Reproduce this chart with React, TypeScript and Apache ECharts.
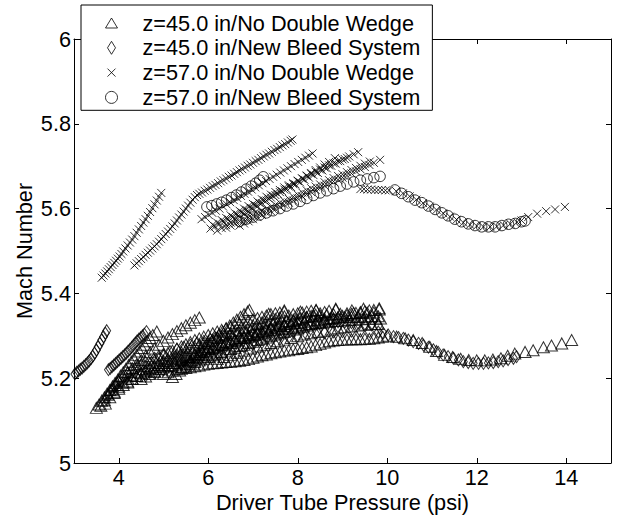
import React, { useEffect, useRef } from "react";
import * as echarts from "echarts";

type P = [number, number];

const FONT = "'Liberation Sans', Arial, Helvetica, sans-serif";

const xTickValues = [4, 6, 8, 10, 12, 14];
const seriesNames = [
  "z=45.0 in/No Double Wedge",
  "z=45.0 in/New Bleed System",
  "z=57.0 in/No Double Wedge",
  "z=57.0 in/New Bleed System",
];

// ---------- z=45.0 in / No Double Wedge (triangles) ----------
const triRun1: P[] = [
  [3.5, 5.13], [3.56, 5.138], [3.62, 5.147], [3.68, 5.155], [3.74, 5.164], [3.8, 5.172], [3.86, 5.181],
  [3.92, 5.189], [3.98, 5.197], [4.04, 5.206], [4.1, 5.214], [4.16, 5.222], [4.22, 5.231], [4.28, 5.239],
  [4.34, 5.247], [4.4, 5.255], [4.46, 5.263], [4.52, 5.271], [4.58, 5.279], [4.64, 5.287], [4.7, 5.295],
  [4.76, 5.302], [4.85, 5.31],
];
const triRun2: P[] = [
  [3.6, 5.135], [3.68, 5.148], [3.76, 5.161], [3.84, 5.173], [3.92, 5.184], [4.0, 5.194], [4.1, 5.204],
  [4.2, 5.214], [4.3, 5.224], [4.4, 5.233], [4.5, 5.243], [4.6, 5.252], [4.7, 5.261], [4.8, 5.27],
  [4.9, 5.279], [5.0, 5.288], [5.1, 5.296], [5.2, 5.304], [5.3, 5.311], [5.4, 5.318], [5.5, 5.325],
  [5.6, 5.331], [5.7, 5.337], [5.8, 5.343],
];
const triRun3: P[] = [
  [5.2, 5.203], [5.28, 5.21], [5.36, 5.218], [5.44, 5.226], [5.52, 5.234], [5.6, 5.242], [5.68, 5.25],
  [5.76, 5.258], [5.84, 5.266], [5.92, 5.273], [6.0, 5.281], [6.08, 5.288], [6.16, 5.296], [6.24, 5.303],
  [6.32, 5.31], [6.4, 5.317], [6.48, 5.324], [6.56, 5.331], [6.64, 5.338], [6.72, 5.345], [6.8, 5.351],
  [6.88, 5.357], [6.92, 5.361],
];
const triRun4: P[] = [
  [3.7, 5.14], [3.8, 5.155], [3.9, 5.168], [4.0, 5.18], [4.1, 5.19], [4.2, 5.199], [4.3, 5.207],
  [4.4, 5.215], [4.5, 5.222], [4.6, 5.229], [4.7, 5.236], [4.8, 5.242], [4.9, 5.248], [5.0, 5.254],
  [5.1, 5.26], [5.2, 5.265], [5.3, 5.27], [5.4, 5.275], [5.5, 5.28], [5.6, 5.285], [5.7, 5.29],
  [5.8, 5.294], [5.9, 5.298], [6.0, 5.302], [6.1, 5.306], [6.2, 5.31], [6.3, 5.314], [6.4, 5.318],
  [6.5, 5.322], [6.6, 5.325], [6.7, 5.329], [6.8, 5.332], [6.9, 5.336], [7.0, 5.339], [7.1, 5.342],
  [7.2, 5.345], [7.3, 5.348], [7.4, 5.351], [7.5, 5.353], [7.6, 5.355], [7.7, 5.357],
];
const triRun5: P[] = [
  [4.2, 5.19], [4.3, 5.198], [4.4, 5.205], [4.5, 5.212], [4.6, 5.218], [4.7, 5.224], [4.8, 5.23],
  [4.9, 5.236], [5.0, 5.241], [5.1, 5.246], [5.2, 5.251], [5.3, 5.256], [5.4, 5.261], [5.5, 5.266],
  [5.6, 5.271], [5.7, 5.275], [5.8, 5.279], [5.9, 5.283], [6.0, 5.287], [6.1, 5.291], [6.2, 5.295],
  [6.3, 5.299], [6.4, 5.303], [6.5, 5.307], [6.6, 5.311], [6.7, 5.314], [6.8, 5.318], [6.9, 5.321],
  [7.0, 5.325], [7.1, 5.328], [7.2, 5.331], [7.3, 5.334], [7.4, 5.337], [7.5, 5.34], [7.6, 5.343],
  [7.7, 5.346], [7.8, 5.348], [7.9, 5.351], [8.0, 5.353], [8.1, 5.355], [8.2, 5.357], [8.3, 5.359],
  [8.41, 5.36],
];
const triRun6: P[] = [
  [4.5, 5.198], [4.6, 5.204], [4.7, 5.21], [4.8, 5.216], [4.9, 5.221], [5.0, 5.226], [5.1, 5.231],
  [5.2, 5.236], [5.3, 5.24], [5.4, 5.245], [5.5, 5.249], [5.6, 5.253], [5.7, 5.257], [5.8, 5.261],
  [5.9, 5.265], [6.0, 5.269], [6.1, 5.273], [6.2, 5.277], [6.3, 5.28], [6.4, 5.284], [6.5, 5.288],
  [6.6, 5.291], [6.7, 5.295], [6.8, 5.298], [6.9, 5.302], [7.0, 5.305], [7.1, 5.309], [7.2, 5.312],
  [7.3, 5.315], [7.4, 5.319], [7.5, 5.322], [7.6, 5.325], [7.7, 5.328], [7.8, 5.332], [7.9, 5.335],
  [8.0, 5.338], [8.1, 5.341], [8.2, 5.344], [8.3, 5.347], [8.4, 5.35], [8.5, 5.353], [8.6, 5.356],
  [8.7, 5.359], [8.85, 5.362],
];
const triRun7: P[] = [
  [5.0, 5.21], [5.1, 5.214], [5.2, 5.218], [5.3, 5.222], [5.4, 5.226], [5.5, 5.23], [5.6, 5.234],
  [5.7, 5.238], [5.8, 5.242], [5.9, 5.246], [6.0, 5.25], [6.1, 5.254], [6.2, 5.258], [6.3, 5.262],
  [6.4, 5.265], [6.5, 5.269], [6.6, 5.272], [6.7, 5.276], [6.8, 5.279], [6.9, 5.283], [7.0, 5.286],
  [7.1, 5.29], [7.2, 5.293], [7.3, 5.296], [7.4, 5.3], [7.5, 5.303], [7.6, 5.306], [7.7, 5.309],
  [7.8, 5.312], [7.9, 5.315], [8.0, 5.318], [8.1, 5.321], [8.2, 5.324], [8.3, 5.327], [8.4, 5.33],
  [8.5, 5.333], [8.6, 5.336], [8.7, 5.339], [8.8, 5.341], [8.9, 5.344], [9.0, 5.347], [9.1, 5.349],
  [9.2, 5.352], [9.3, 5.354], [9.4, 5.356], [9.5, 5.358], [9.6, 5.36], [9.7, 5.361], [9.82, 5.362],
];
const triRun8: P[] = [
  [5.4, 5.222], [5.5, 5.224], [5.6, 5.226], [5.7, 5.228], [5.8, 5.23], [5.9, 5.232], [6.0, 5.234],
  [6.1, 5.235], [6.2, 5.236], [6.3, 5.237], [6.4, 5.238], [6.5, 5.239], [6.6, 5.24], [6.7, 5.241],
  [6.8, 5.243], [6.9, 5.245], [7.0, 5.248], [7.1, 5.251], [7.2, 5.254], [7.3, 5.256], [7.4, 5.259],
  [7.5, 5.261], [7.6, 5.263], [7.7, 5.265], [7.8, 5.266], [7.9, 5.268], [8.0, 5.269], [8.1, 5.271],
  [8.2, 5.273], [8.3, 5.275], [8.4, 5.278], [8.5, 5.281], [8.6, 5.284], [8.7, 5.287], [8.8, 5.289],
  [8.9, 5.29], [9.0, 5.291], [9.1, 5.291], [9.2, 5.292], [9.3, 5.292], [9.4, 5.292], [9.5, 5.293],
  [9.6, 5.293], [9.7, 5.294], [9.8, 5.296], [9.9, 5.298],
];
const triRun9: P[] = [
  [5.6, 5.24], [5.75, 5.248], [5.9, 5.256], [6.05, 5.263], [6.2, 5.27], [6.35, 5.277], [6.5, 5.283],
  [6.65, 5.289], [6.8, 5.295], [6.95, 5.3], [7.1, 5.305], [7.25, 5.31], [7.4, 5.315], [7.55, 5.319],
  [7.7, 5.323], [7.85, 5.327], [8.0, 5.33], [8.15, 5.333], [8.3, 5.336], [8.45, 5.338], [8.6, 5.34],
  [8.75, 5.342], [8.9, 5.343], [9.05, 5.344], [9.2, 5.345], [9.35, 5.345], [9.5, 5.345], [9.65, 5.346],
  [9.8, 5.346],
];
const triRun10: P[] = [
  [6.2, 5.245], [6.35, 5.25], [6.5, 5.255], [6.65, 5.26], [6.8, 5.265], [6.95, 5.27], [7.1, 5.275],
  [7.25, 5.279], [7.4, 5.283], [7.55, 5.287], [7.7, 5.291], [7.85, 5.295], [8.0, 5.299], [8.15, 5.303],
  [8.3, 5.306], [8.45, 5.309], [8.6, 5.312], [8.75, 5.315], [8.9, 5.318], [9.05, 5.32], [9.2, 5.322],
  [9.35, 5.324], [9.5, 5.326], [9.65, 5.327], [9.8, 5.328],
];
const triRun11: P[] = [
  [4.8, 5.215], [4.95, 5.222], [5.1, 5.229], [5.25, 5.236], [5.4, 5.243], [5.55, 5.25], [5.7, 5.256],
  [5.85, 5.262], [6.0, 5.268], [6.15, 5.274], [6.3, 5.279], [6.45, 5.284], [6.6, 5.289], [6.75, 5.294],
  [6.9, 5.298], [7.05, 5.302], [7.2, 5.306], [7.35, 5.31], [7.5, 5.313], [7.65, 5.316], [7.8, 5.319],
  [7.95, 5.322], [8.1, 5.325], [8.25, 5.327], [8.4, 5.329], [8.55, 5.331], [8.7, 5.333], [8.85, 5.335],
  [9.0, 5.336], [9.15, 5.337], [9.3, 5.338], [9.45, 5.339], [9.6, 5.34], [9.75, 5.34], [9.85, 5.341],
];
const triRun12: P[] = [
  [5.8, 5.255], [5.95, 5.263], [6.1, 5.271], [6.25, 5.279], [6.4, 5.286], [6.55, 5.293], [6.7, 5.3],
  [6.85, 5.306], [7.0, 5.312], [7.15, 5.317], [7.3, 5.322], [7.45, 5.327], [7.6, 5.331], [7.75, 5.335],
  [7.9, 5.338], [8.05, 5.341], [8.2, 5.344], [8.35, 5.346], [8.5, 5.348], [8.65, 5.35], [8.8, 5.351],
  [8.95, 5.352], [9.1, 5.353], [9.25, 5.354], [9.4, 5.354], [9.55, 5.355], [9.7, 5.355],
];
const triRun13: P[] = [
  [3.9, 5.165], [4.0, 5.175], [4.1, 5.184], [4.2, 5.192], [4.3, 5.199], [4.4, 5.205], [4.5, 5.211],
  [4.6, 5.216], [4.7, 5.221], [4.8, 5.226], [4.9, 5.231], [5.0, 5.236], [5.1, 5.24], [5.2, 5.244],
  [5.3, 5.248], [5.4, 5.252], [5.5, 5.255],
];
const triTop: P[] = [
  [7.35, 5.352], [7.7, 5.36], [8.06, 5.357], [8.41, 5.361], [8.85, 5.364], [9.21, 5.36], [9.47, 5.364], [9.82, 5.365],
];
const triRight: P[] = [
  [10.0, 5.3], [10.21, 5.298], [10.4, 5.294], [10.58, 5.29], [10.78, 5.283], [10.95, 5.274], [11.1, 5.264],
  [11.28, 5.255], [11.46, 5.25], [11.64, 5.246], [11.82, 5.243], [12.0, 5.242], [12.18, 5.242], [12.36, 5.244],
  [12.54, 5.247], [12.69, 5.253], [12.85, 5.258], [13.08, 5.262], [13.26, 5.266], [13.49, 5.273], [13.67, 5.277],
  [13.9, 5.282], [14.12, 5.29],
];

// ---------- z=45.0 in / New Bleed System (diamonds) ----------
const diaRun1: P[] = [
  [2.98, 5.207], [3.02, 5.21], [3.06, 5.214], [3.1, 5.217], [3.14, 5.221], [3.18, 5.224], [3.22, 5.228],
  [3.26, 5.232], [3.3, 5.236], [3.34, 5.241], [3.38, 5.246], [3.42, 5.252], [3.46, 5.259], [3.5, 5.266],
  [3.54, 5.274], [3.58, 5.282], [3.62, 5.29], [3.66, 5.298], [3.7, 5.306], [3.73, 5.312],
];
const diaRun2: P[] = [
  [3.77, 5.22], [3.81, 5.223], [3.85, 5.227], [3.89, 5.231], [3.93, 5.235], [3.97, 5.239], [4.01, 5.243],
  [4.05, 5.247], [4.09, 5.251], [4.13, 5.255], [4.17, 5.259], [4.21, 5.264], [4.25, 5.268], [4.29, 5.273],
  [4.33, 5.278], [4.37, 5.283], [4.41, 5.288], [4.45, 5.292], [4.49, 5.296], [4.53, 5.3], [4.57, 5.304],
  [4.62, 5.31],
];
const diaRun3: P[] = [
  [3.72, 5.15], [3.78, 5.16], [3.84, 5.17], [3.9, 5.179], [3.96, 5.187], [4.02, 5.195], [4.1, 5.203],
  [4.2, 5.211], [4.3, 5.218], [4.4, 5.225], [4.5, 5.231], [4.6, 5.237], [4.7, 5.242], [4.8, 5.247],
  [4.9, 5.252], [5.0, 5.256], [5.15, 5.262], [5.3, 5.268], [5.45, 5.273], [5.6, 5.278], [5.75, 5.283],
  [5.9, 5.287], [6.05, 5.291], [6.2, 5.295], [6.35, 5.298], [6.5, 5.302], [6.65, 5.305], [6.8, 5.308],
  [6.95, 5.311], [7.1, 5.314], [7.25, 5.317], [7.4, 5.319], [7.55, 5.322], [7.7, 5.324], [7.85, 5.326],
  [8.0, 5.328], [8.15, 5.33], [8.3, 5.331], [8.45, 5.332], [8.6, 5.333], [8.75, 5.333], [8.9, 5.333],
  [9.05, 5.332], [9.2, 5.331], [9.35, 5.33], [9.5, 5.328], [9.65, 5.326], [9.8, 5.324],
];
const diaRun4: P[] = [
  [4.6, 5.205], [4.8, 5.212], [5.0, 5.219], [5.2, 5.226], [5.4, 5.233], [5.6, 5.24], [5.8, 5.246],
  [6.0, 5.252], [6.2, 5.258], [6.4, 5.264], [6.6, 5.269], [6.8, 5.274], [7.0, 5.279], [7.2, 5.284],
  [7.4, 5.288], [7.6, 5.292], [7.8, 5.296], [8.0, 5.299], [8.2, 5.302], [8.4, 5.305], [8.6, 5.307],
  [8.8, 5.309], [9.0, 5.31], [9.2, 5.311], [9.4, 5.311], [9.6, 5.31], [9.8, 5.309],
];
const diaRight: P[] = [
  [9.91, 5.306], [10.02, 5.302], [10.14, 5.298], [10.25, 5.296], [10.36, 5.294], [10.47, 5.29], [10.58, 5.286],
  [10.7, 5.282], [10.81, 5.278], [10.92, 5.273], [11.03, 5.267], [11.14, 5.261], [11.25, 5.255], [11.36, 5.251],
  [11.48, 5.247], [11.59, 5.243], [11.7, 5.239], [11.81, 5.237], [11.92, 5.235], [12.04, 5.235], [12.15, 5.235],
  [12.26, 5.236], [12.37, 5.237], [12.48, 5.239], [12.59, 5.241], [12.7, 5.244], [12.82, 5.247], [12.89, 5.251],
];

// ---------- z=57.0 in / No Double Wedge (crosses) ----------
const crossRun1: P[] = [
  [3.62, 5.437], [3.66, 5.442], [3.7, 5.447], [3.74, 5.452], [3.78, 5.457], [3.82, 5.462], [3.86, 5.467],
  [3.9, 5.472], [3.94, 5.477], [3.98, 5.482], [4.02, 5.487], [4.06, 5.493], [4.1, 5.499], [4.15, 5.506],
  [4.2, 5.513], [4.25, 5.52], [4.3, 5.527], [4.35, 5.535], [4.4, 5.543], [4.45, 5.551], [4.5, 5.559],
  [4.55, 5.567], [4.6, 5.575], [4.65, 5.583], [4.7, 5.592], [4.75, 5.601], [4.8, 5.61], [4.85, 5.619],
  [4.9, 5.628], [4.95, 5.637],
];
const crossRun2: P[] = [
  [4.35, 5.466], [4.4, 5.471], [4.45, 5.476], [4.5, 5.481], [4.55, 5.486], [4.6, 5.491], [4.65, 5.496],
  [4.7, 5.501], [4.75, 5.506], [4.8, 5.511], [4.85, 5.516], [4.9, 5.522], [4.95, 5.528], [5.0, 5.534],
  [5.05, 5.54], [5.1, 5.546], [5.15, 5.552], [5.2, 5.558], [5.25, 5.565], [5.3, 5.572], [5.35, 5.579],
  [5.4, 5.586], [5.45, 5.593], [5.5, 5.6], [5.55, 5.607], [5.6, 5.614], [5.65, 5.621], [5.7, 5.627],
  [5.75, 5.632], [5.8, 5.635], [5.86, 5.638], [5.92, 5.642], [5.98, 5.645], [6.04, 5.649], [6.1, 5.653],
  [6.16, 5.656], [6.22, 5.66], [6.28, 5.664], [6.34, 5.667], [6.4, 5.671], [6.46, 5.675], [6.52, 5.678],
  [6.58, 5.682], [6.64, 5.686], [6.7, 5.69], [6.76, 5.693], [6.82, 5.697], [6.88, 5.701], [6.94, 5.704],
  [7.0, 5.708], [7.06, 5.712], [7.12, 5.715], [7.18, 5.719], [7.24, 5.723], [7.3, 5.727], [7.36, 5.73],
  [7.42, 5.734], [7.48, 5.738], [7.54, 5.741], [7.6, 5.745], [7.66, 5.749], [7.72, 5.752], [7.78, 5.756],
  [7.84, 5.76], [7.88, 5.763],
];
const crossRun3: P[] = [
  [5.85, 5.575], [5.93, 5.58], [6.01, 5.585], [6.09, 5.59], [6.17, 5.595], [6.25, 5.6], [6.33, 5.605],
  [6.41, 5.61], [6.49, 5.615], [6.57, 5.62], [6.65, 5.625], [6.73, 5.63], [6.81, 5.635], [6.89, 5.64],
  [6.97, 5.645], [7.05, 5.65], [7.13, 5.655], [7.21, 5.66], [7.29, 5.665], [7.37, 5.67], [7.45, 5.675],
  [7.53, 5.68], [7.61, 5.685], [7.69, 5.69], [7.77, 5.695], [7.85, 5.7], [7.93, 5.705], [8.01, 5.71],
  [8.09, 5.715], [8.17, 5.72], [8.25, 5.725], [8.33, 5.73],
];
const crossRun4: P[] = [
  [6.05, 5.553], [6.15, 5.558], [6.25, 5.564], [6.35, 5.569], [6.45, 5.575], [6.55, 5.58], [6.65, 5.586],
  [6.75, 5.591], [6.85, 5.597], [6.95, 5.602], [7.05, 5.608], [7.15, 5.613], [7.25, 5.619], [7.35, 5.624],
  [7.45, 5.63], [7.55, 5.635], [7.65, 5.641], [7.75, 5.646], [7.85, 5.651], [7.95, 5.657], [8.05, 5.662],
  [8.15, 5.668], [8.25, 5.673], [8.35, 5.679], [8.45, 5.684], [8.55, 5.69], [8.65, 5.695], [8.75, 5.701],
  [8.85, 5.706], [8.95, 5.712], [9.05, 5.717], [9.15, 5.723], [9.25, 5.728], [9.35, 5.733],
];
const crossRun5: P[] = [
  [6.2, 5.548], [6.3, 5.554], [6.4, 5.561], [6.5, 5.567], [6.6, 5.574], [6.7, 5.58], [6.8, 5.587],
  [6.9, 5.593], [7.0, 5.6], [7.1, 5.606], [7.2, 5.613], [7.3, 5.619], [7.4, 5.626], [7.5, 5.632],
  [7.6, 5.639], [7.7, 5.645], [7.8, 5.652], [7.9, 5.658], [8.0, 5.665], [8.1, 5.671], [8.2, 5.678],
  [8.3, 5.684], [8.4, 5.691], [8.5, 5.697], [8.6, 5.704], [8.7, 5.71], [8.83, 5.719],
];
const crossRun6: P[] = [
  [6.4, 5.555], [6.5, 5.56], [6.6, 5.565], [6.7, 5.57], [6.8, 5.574], [6.9, 5.579], [7.0, 5.584],
  [7.1, 5.589], [7.2, 5.594], [7.3, 5.599], [7.4, 5.604], [7.5, 5.609], [7.6, 5.614], [7.7, 5.618],
  [7.8, 5.623], [7.9, 5.628], [8.0, 5.633], [8.1, 5.638], [8.2, 5.643], [8.3, 5.648], [8.4, 5.652],
  [8.5, 5.657], [8.6, 5.662], [8.7, 5.667], [8.8, 5.672], [8.9, 5.677], [9.0, 5.681], [9.1, 5.686],
  [9.2, 5.691], [9.3, 5.696], [9.4, 5.701], [9.5, 5.706], [9.61, 5.711],
];
const crossRun7: P[] = [
  [6.7, 5.56], [6.8, 5.565], [6.9, 5.57], [7.0, 5.575], [7.1, 5.58], [7.2, 5.585], [7.3, 5.59],
  [7.4, 5.594], [7.5, 5.599], [7.6, 5.604], [7.7, 5.609], [7.8, 5.614], [7.9, 5.619], [8.0, 5.624],
  [8.1, 5.629], [8.2, 5.634], [8.3, 5.639], [8.4, 5.644], [8.5, 5.649], [8.6, 5.654], [8.7, 5.659],
  [8.8, 5.664], [8.9, 5.668], [9.0, 5.673], [9.1, 5.678], [9.2, 5.683], [9.3, 5.688], [9.4, 5.693],
  [9.5, 5.698], [9.6, 5.703], [9.7, 5.708], [9.84, 5.715],
];
const crossRun8: P[] = [
  [6.1, 5.562], [6.2, 5.567], [6.3, 5.573], [6.4, 5.578], [6.5, 5.584], [6.6, 5.589], [6.7, 5.595],
  [6.8, 5.6], [6.9, 5.606], [7.0, 5.611], [7.1, 5.617], [7.2, 5.622], [7.3, 5.628], [7.4, 5.633],
  [7.5, 5.639], [7.6, 5.644], [7.7, 5.65], [7.8, 5.655], [7.9, 5.66], [8.0, 5.666], [8.1, 5.671],
  [8.2, 5.677], [8.3, 5.682], [8.4, 5.687], [8.5, 5.692], [8.6, 5.697], [8.7, 5.702], [8.8, 5.707],
  [8.9, 5.712], [9.0, 5.716], [9.1, 5.72],
];
const crossRight: P[] = [
  [9.4, 5.646], [9.48, 5.646], [9.56, 5.645], [9.64, 5.645], [9.72, 5.644], [9.8, 5.644], [9.88, 5.644],
  [9.96, 5.643], [10.04, 5.643], [10.2, 5.641], [10.35, 5.636], [10.5, 5.629], [10.65, 5.621], [10.8, 5.613],
  [10.95, 5.605], [11.1, 5.597], [11.25, 5.589], [11.4, 5.581], [11.55, 5.574], [11.7, 5.567], [11.85, 5.562],
  [12.0, 5.559], [12.15, 5.557], [12.3, 5.557], [12.45, 5.558], [12.6, 5.561], [12.75, 5.564], [12.9, 5.568],
  [13.0, 5.572], [13.15, 5.58], [13.35, 5.588], [13.55, 5.594], [13.75, 5.598], [13.97, 5.604],
];

// ---------- z=57.0 in / New Bleed System (circles) ----------
const circRun1: P[] = [
  [5.97, 5.604], [6.08, 5.607], [6.19, 5.611], [6.3, 5.615], [6.41, 5.62], [6.52, 5.626], [6.63, 5.632],
  [6.74, 5.639], [6.85, 5.646], [6.96, 5.653], [7.06, 5.66], [7.15, 5.667], [7.23, 5.675],
];
const circRun2: P[] = [
  [6.7, 5.57], [6.85, 5.575], [7.0, 5.58], [7.15, 5.585], [7.3, 5.59], [7.45, 5.595], [7.6, 5.6],
  [7.75, 5.606], [7.9, 5.611], [8.05, 5.617], [8.2, 5.624], [8.35, 5.631], [8.5, 5.637], [8.65, 5.642],
  [8.8, 5.647], [8.95, 5.653], [9.1, 5.658], [9.25, 5.663], [9.4, 5.667], [9.55, 5.67], [9.7, 5.673],
  [9.84, 5.676],
];
const circRight: P[] = [
  [10.17, 5.644], [10.32, 5.636], [10.47, 5.628], [10.62, 5.62], [10.77, 5.614], [10.92, 5.606], [11.07, 5.598],
  [11.22, 5.59], [11.36, 5.583], [11.51, 5.575], [11.66, 5.569], [11.81, 5.564], [11.96, 5.56], [12.11, 5.557],
  [12.26, 5.557], [12.41, 5.557], [12.56, 5.56], [12.71, 5.563], [12.86, 5.565], [13.0, 5.569], [13.08, 5.571],
];

const triangleData: P[] = [
  ...triRun1, ...triRun2, ...triRun3, ...triRun4, ...triRun5, ...triRun6, ...triRun7,
  ...triRun8, ...triRun9, ...triRun10, ...triRun11, ...triRun12, ...triRun13, ...triTop, ...triRight,
];
const diamondData: P[] = [...diaRun1, ...diaRun2, ...diaRun3, ...diaRun4, ...diaRight];
const crossData: P[] = [
  ...crossRun1, ...crossRun2, ...crossRun3, ...crossRun4, ...crossRun5, ...crossRun6, ...crossRun7,
  ...crossRun8, ...crossRight,
];
const circleData: P[] = [...circRun1, ...circRun2, ...circRight];

const CROSS = "path://M0,0L8,8M8,0L0,8";
const hollow = { color: "transparent", borderColor: "#000", borderWidth: 1 };

export default function App() {
  const ref = useRef<HTMLDivElement>(null);

  useEffect(() => {
    document.body.style.margin = "0";
    if (!ref.current) return;
    const chart = echarts.init(ref.current, null, { renderer: "svg" });

    const axisCommon = {
      axisLine: { show: true, onZero: false, lineStyle: { color: "#000", width: 1 } },
      splitLine: { show: false },
    };

    const mkSeries = (name: string, data: P[], symbol: string, size: number | number[]) => ({
      name,
      type: "scatter",
      data,
      symbol,
      symbolSize: size,
      itemStyle: hollow,
      silent: true,
      clip: true,
      emphasis: { disabled: true },
    });

    chart.setOption({
      animation: false,
      backgroundColor: "#fff",
      textStyle: { fontFamily: FONT },
      grid: { left: 74, right: 7, top: 39, bottom: 53, containLabel: false, outerBoundsMode: "none" },
      xAxis: [
        {
          type: "value",
          min: 3,
          max: 15,
          position: "bottom",
          ...axisCommon,
          axisTick: { show: true, inside: true, length: 5, customValues: xTickValues, lineStyle: { color: "#000" } },
          axisLabel: {
            show: true,
            customValues: xTickValues,
            margin: 6,
            lineHeight: 16,
            color: "#000",
            fontSize: 21.7,
            fontFamily: FONT,
          },
          name: "Driver Tube Pressure (psi)",
          nameLocation: "middle",
          nameGap: 30.5,
          nameMoveOverlap: false,
          nameTextStyle: { color: "#000", fontSize: 21.7, lineHeight: 18, fontFamily: FONT },
        },
        {
          type: "value",
          min: 3,
          max: 15,
          position: "top",
          ...axisCommon,
          axisTick: { show: true, inside: true, length: 5, customValues: xTickValues, lineStyle: { color: "#000" } },
          axisLabel: { show: false },
        },
      ],
      yAxis: [
        {
          type: "value",
          min: 5,
          max: 6,
          interval: 0.2,
          position: "left",
          ...axisCommon,
          axisTick: { show: true, inside: true, length: 5, lineStyle: { color: "#000" } },
          axisLabel: {
            show: true,
            margin: 3,
            color: "#000",
            fontSize: 21.7,
            fontFamily: FONT,
            formatter: (v: number) => String(+v.toFixed(1)),
          },
          name: "Mach Number",
          nameLocation: "middle",
          nameGap: 39,
          nameRotate: 90,
          nameMoveOverlap: false,
          nameTextStyle: { color: "#000", fontSize: 21.7, fontFamily: FONT },
        },
        {
          type: "value",
          min: 5,
          max: 6,
          interval: 0.2,
          position: "right",
          ...axisCommon,
          axisTick: { show: true, inside: true, length: 5, lineStyle: { color: "#000" } },
          axisLabel: { show: false },
        },
      ],
      legend: {
        show: true,
        orient: "vertical",
        left: 81,
        top: 5,
        padding: [7, 12, 1.9, 24],
        itemGap: 2.8,
        itemWidth: 12,
        itemHeight: 13,
        symbolKeepAspect: true,
        backgroundColor: "#fff",
        borderColor: "#000",
        borderWidth: 1,
        borderRadius: 0,
        selectedMode: false,
        itemStyle: { color: "transparent", borderColor: "#000", borderWidth: 1 },
        textStyle: { color: "#000", fontSize: 21.7, fontFamily: FONT, padding: [0, 0, 0, 20] },
        data: [
          { name: seriesNames[0], icon: "path://M6,0L12,10L0,10Z" },
          { name: seriesNames[1], icon: "path://M4,0L8,6.5L4,13L0,6.5Z" },
          { name: seriesNames[2], icon: "path://M-2,-2M10,10M0,0L8,8M8,0L0,8" },
          { name: seriesNames[3], icon: "circle" },
        ],
      },
      series: [
        mkSeries(seriesNames[0], triangleData, "triangle", [12, 11]),
        mkSeries(seriesNames[1], diamondData, "diamond", [8, 12]),
        mkSeries(seriesNames[2], crossData, CROSS, 8),
        mkSeries(seriesNames[3], circleData, "circle", 10.5),
      ],
    });

    return () => chart.dispose();
  }, []);

  return (
    <div style={{ position: "absolute", left: 0, top: 0, width: 618, height: 516 }}>
      <div ref={ref} style={{ width: 618, height: 516 }} />
    </div>
  );
}
